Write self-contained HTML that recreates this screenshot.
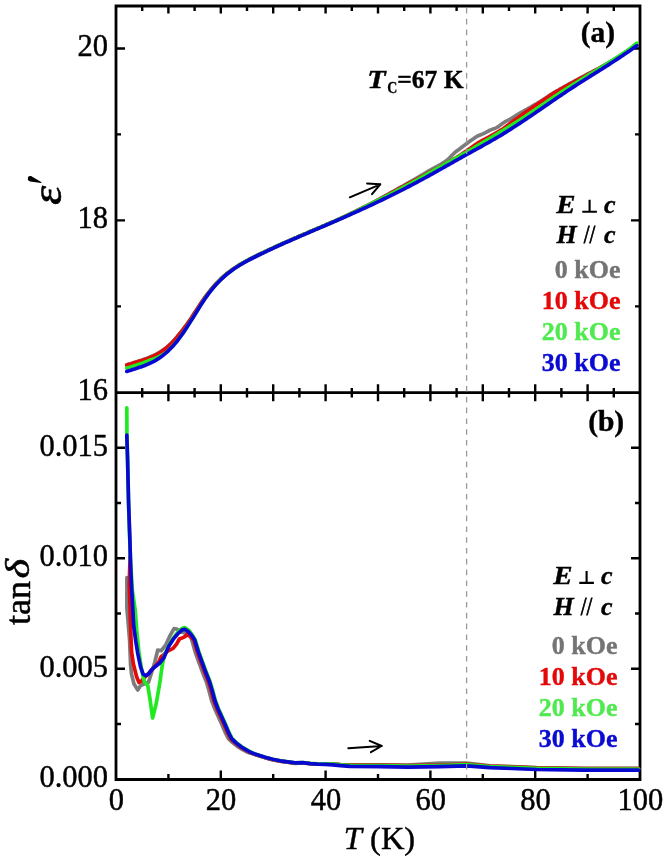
<!DOCTYPE html>
<html><head><meta charset="utf-8"><style>
html,body{margin:0;padding:0;background:#fff;width:664px;height:857px;overflow:hidden}
svg{display:block;filter:blur(0.35px)}
</style></head><body>
<svg width="664" height="857" viewBox="0 0 664 857">
<rect width="664" height="857" fill="#fff"/>
<path d="M116 6 H640 V779.5 H116 Z M116 392.7 H640" fill="none" stroke="#000" stroke-width="2.8" stroke-linejoin="miter"/>
<path d="M116 306.4 h5 M640 306.4 h-5 M116 134.4 h5 M640 134.4 h-5 M116 220.4 h9 M640 220.4 h-9 M116 48.5 h9 M640 48.5 h-9 M142.2 6 v5 M168.4 6 v7.5 M194.6 6 v5 M220.8 6 v7.5 M247.0 6 v5 M273.2 6 v7.5 M299.4 6 v5 M325.6 6 v7.5 M351.8 6 v5 M378.0 6 v7.5 M404.2 6 v5 M430.4 6 v7.5 M456.6 6 v5 M482.8 6 v7.5 M509.0 6 v5 M535.2 6 v7.5 M561.4 6 v5 M587.6 6 v7.5 M613.8 6 v5 M142.2 388 v9.4 M168.4 384.2 v17 M194.6 388 v9.4 M220.8 384.2 v17 M247.0 388 v9.4 M273.2 384.2 v17 M299.4 388 v9.4 M325.6 384.2 v17 M351.8 388 v9.4 M378.0 384.2 v17 M404.2 388 v9.4 M430.4 384.2 v17 M456.6 388 v9.4 M482.8 384.2 v17 M509.0 388 v9.4 M535.2 384.2 v17 M561.4 388 v9.4 M587.6 384.2 v17 M613.8 388 v9.4 M168.4 779.5 v-5.5 M220.8 779.5 v-9 M273.2 779.5 v-5.5 M325.6 779.5 v-9 M378.0 779.5 v-5.5 M430.4 779.5 v-9 M482.8 779.5 v-5.5 M535.2 779.5 v-9 M587.6 779.5 v-5.5 M116 724.0 h5 M640 724.0 h-5 M116 613.5 h5 M640 613.5 h-5 M116 503.0 h5 M640 503.0 h-5 M116 668.8 h9 M640 668.8 h-9 M116 558.3 h9 M640 558.3 h-9 M116 447.8 h9 M640 447.8 h-9" fill="none" stroke="#000" stroke-width="2.4"/>
<path d="M126.8 364.7 L128.8 364.0 L130.8 363.5 L132.8 362.9 L134.8 362.3 L136.8 361.7 L138.8 361.1 L140.8 360.4 L142.8 359.8 L144.8 359.0 L146.8 358.3 L148.8 357.5 L150.8 356.6 L152.8 355.8 L154.8 354.8 L156.8 353.8 L158.8 352.7 L160.8 351.5 L162.8 350.1 L164.8 348.7 L166.8 347.1 L168.8 345.4 L170.8 343.6 L172.8 341.6 L174.8 339.4 L176.8 337.2 L178.8 334.8 L180.8 332.3 L182.8 329.9 L184.8 327.3 L186.8 324.6 L188.8 321.9 L190.8 319.0 L192.8 315.9 L194.8 312.8 L196.8 309.7 L198.8 306.6 L200.8 303.6 L202.8 300.6 L204.8 297.7 L206.8 295.0 L208.8 292.4 L210.8 289.9 L212.8 287.5 L214.8 285.2 L216.8 283.0 L218.8 281.0 L220.8 279.0 L222.8 277.2 L224.8 275.4 L226.8 273.8 L228.8 272.2 L230.8 270.7 L232.8 269.3 L234.8 268.0 L236.8 266.7 L238.8 265.4 L240.8 264.2 L242.8 263.0 L244.8 261.9 L246.8 260.8 L248.8 259.7 L250.8 258.7 L252.8 257.7 L254.8 256.7 L256.8 255.7 L258.8 254.7 L260.8 253.7 L262.8 252.8 L264.8 251.8 L266.8 250.9 L268.8 249.9 L270.8 249.0 L272.8 248.1 L274.8 247.1 L276.8 246.2 L278.8 245.3 L280.8 244.4 L282.8 243.5 L284.8 242.6 L286.8 241.7 L288.8 240.9 L290.8 240.0 L292.8 239.1 L294.8 238.2 L296.8 237.4 L298.8 236.5 L300.8 235.6 L302.8 234.8 L304.8 233.9 L306.8 233.1 L308.8 232.2 L310.8 231.3 L312.8 230.5 L314.8 229.6 L316.8 228.8 L318.8 227.9 L320.8 227.1 L322.8 226.2 L324.8 225.4 L326.8 224.5 L328.8 223.7 L330.8 222.8 L332.8 221.9 L334.8 221.1 L336.8 220.2 L338.8 219.3 L340.8 218.4 L342.8 217.5 L344.8 216.5 L346.8 215.5 L348.8 214.6 L350.8 213.6 L352.8 212.6 L354.8 211.6 L356.8 210.7 L358.8 209.7 L360.8 208.7 L362.8 207.7 L364.8 206.7 L366.8 205.7 L368.8 204.7 L370.8 203.6 L372.8 202.6 L374.8 201.5 L376.8 200.4 L378.8 199.3 L380.8 198.2 L382.8 197.1 L384.8 196.0 L386.8 194.9 L388.8 193.8 L390.8 192.7 L392.8 191.6 L394.8 190.5 L396.8 189.3 L398.8 188.2 L400.8 187.1 L402.8 186.0 L404.8 184.8 L406.8 183.7 L408.8 182.6 L410.8 181.4 L412.8 180.3 L414.8 179.2 L416.8 178.0 L418.8 176.8 L420.8 175.7 L422.8 174.5 L424.8 173.3 L426.8 172.1 L428.8 170.9 L430.8 169.8 L432.8 168.7 L434.8 167.6 L436.8 166.5 L438.8 165.4 L440.8 164.3 L442.8 163.1 L444.8 161.7 L446.8 160.4 L448.8 158.7 L450.8 156.6 L452.8 154.5 L454.8 152.6 L456.8 151.1 L458.8 149.6 L460.8 148.0 L462.8 146.5 L464.8 145.0 L466.8 143.5 L468.8 142.1 L470.8 140.6 L472.8 139.2 L474.8 137.8 L476.8 136.4 L478.8 135.5 L480.8 134.7 L482.8 133.9 L484.8 133.0 L486.8 131.9 L488.8 130.8 L490.8 129.9 L492.8 129.1 L494.8 128.4 L496.8 127.6 L498.8 126.2 L500.8 124.8 L502.8 123.3 L504.8 121.9 L506.8 120.9 L508.8 119.9 L510.8 118.8 L512.8 117.6 L514.8 116.4 L516.8 115.1 L518.8 113.9 L520.8 112.7 L522.8 111.5 L524.8 110.4 L526.8 109.3 L528.8 108.1 L530.8 107.0 L532.8 105.8 L534.8 104.6 L536.8 103.5 L538.8 102.3 L540.8 101.1 L542.8 99.8 L544.8 98.5 L546.8 97.2 L548.8 95.9 L550.8 94.6 L552.8 93.3 L554.8 92.0 L556.8 90.9 L558.8 89.8 L560.8 88.6 L562.8 87.5 L564.8 86.4 L566.8 85.3 L568.8 84.2 L570.8 83.1 L572.8 82.0 L574.8 80.9 L576.8 79.8 L578.8 78.8 L580.8 77.7 L582.8 76.6 L584.8 75.6 L586.8 74.5 L588.8 73.5 L590.8 72.5 L592.8 71.4 L594.8 70.4 L596.8 69.3 L598.8 68.3 L600.8 67.2 L602.8 66.1 L604.8 65.0 L606.8 63.8 L608.8 62.7 L610.8 61.5 L612.8 60.4 L614.8 59.2 L616.8 58.0 L618.8 56.8 L620.8 55.6 L622.8 54.3 L624.8 53.0 L626.8 51.6 L628.8 50.3 L630.8 48.9 L632.8 47.5 L634.8 46.1 L636.8 44.7" fill="none" stroke="#7c7c7c" stroke-width="3.7" stroke-linejoin="round" stroke-linecap="round"/>
<path d="M126.8 365.3 L128.8 364.6 L130.8 364.0 L132.8 363.3 L134.8 362.6 L136.8 362.0 L138.8 361.3 L140.8 360.8 L142.8 360.2 L144.8 359.5 L146.8 358.9 L148.8 358.1 L150.8 357.3 L152.8 356.4 L154.8 355.5 L156.8 354.4 L158.8 353.3 L160.8 352.1 L162.8 350.7 L164.8 349.2 L166.8 347.6 L168.8 345.9 L170.8 344.0 L172.8 342.0 L174.8 339.8 L176.8 337.5 L178.8 335.0 L180.8 332.5 L182.8 329.9 L184.8 327.2 L186.8 324.5 L188.8 321.6 L190.8 318.7 L192.8 315.6 L194.8 312.5 L196.8 309.5 L198.8 306.4 L200.8 303.4 L202.8 300.5 L204.8 297.7 L206.8 294.9 L208.8 292.4 L210.8 289.9 L212.8 287.5 L214.8 285.2 L216.8 283.0 L218.8 281.0 L220.8 279.0 L222.8 277.2 L224.8 275.4 L226.8 273.8 L228.8 272.2 L230.8 270.7 L232.8 269.3 L234.8 268.0 L236.8 266.7 L238.8 265.4 L240.8 264.2 L242.8 263.0 L244.8 261.9 L246.8 260.8 L248.8 259.7 L250.8 258.7 L252.8 257.7 L254.8 256.7 L256.8 255.7 L258.8 254.7 L260.8 253.7 L262.8 252.8 L264.8 251.8 L266.8 250.9 L268.8 249.9 L270.8 249.0 L272.8 248.1 L274.8 247.1 L276.8 246.2 L278.8 245.3 L280.8 244.4 L282.8 243.5 L284.8 242.6 L286.8 241.7 L288.8 240.9 L290.8 240.0 L292.8 239.1 L294.8 238.2 L296.8 237.4 L298.8 236.5 L300.8 235.6 L302.8 234.8 L304.8 233.9 L306.8 233.1 L308.8 232.2 L310.8 231.3 L312.8 230.5 L314.8 229.6 L316.8 228.8 L318.8 227.9 L320.8 227.1 L322.8 226.2 L324.8 225.4 L326.8 224.5 L328.8 223.7 L330.8 222.8 L332.8 221.9 L334.8 221.1 L336.8 220.2 L338.8 219.3 L340.8 218.4 L342.8 217.5 L344.8 216.6 L346.8 215.6 L348.8 214.7 L350.8 213.7 L352.8 212.8 L354.8 211.8 L356.8 210.8 L358.8 209.9 L360.8 208.9 L362.8 207.9 L364.8 206.9 L366.8 206.0 L368.8 205.0 L370.8 204.0 L372.8 202.9 L374.8 201.8 L376.8 200.8 L378.8 199.7 L380.8 198.6 L382.8 197.5 L384.8 196.4 L386.8 195.4 L388.8 194.3 L390.8 193.2 L392.8 192.0 L394.8 190.9 L396.8 189.8 L398.8 188.7 L400.8 187.6 L402.8 186.6 L404.8 185.6 L406.8 184.5 L408.8 183.5 L410.8 182.5 L412.8 181.4 L414.8 180.3 L416.8 179.3 L418.8 178.2 L420.8 177.1 L422.8 176.1 L424.8 175.0 L426.8 173.9 L428.8 172.8 L430.8 171.7 L432.8 170.6 L434.8 169.6 L436.8 168.5 L438.8 167.4 L440.8 166.4 L442.8 165.3 L444.8 164.2 L446.8 163.1 L448.8 162.1 L450.8 161.0 L452.8 159.9 L454.8 158.7 L456.8 157.4 L458.8 156.1 L460.8 154.8 L462.8 153.4 L464.8 152.1 L466.8 150.8 L468.8 149.3 L470.8 147.9 L472.8 146.5 L474.8 145.1 L476.8 143.7 L478.8 142.4 L480.8 141.3 L482.8 140.2 L484.8 139.2 L486.8 138.1 L488.8 137.0 L490.8 135.9 L492.8 134.8 L494.8 133.7 L496.8 132.5 L498.8 131.4 L500.8 130.2 L502.8 129.0 L504.8 127.5 L506.8 126.0 L508.8 124.5 L510.8 123.0 L512.8 121.6 L514.8 120.1 L516.8 118.7 L518.8 117.2 L520.8 115.8 L522.8 114.3 L524.8 112.8 L526.8 111.3 L528.8 110.0 L530.8 108.6 L532.8 107.3 L534.8 105.9 L536.8 104.6 L538.8 103.3 L540.8 101.9 L542.8 100.6 L544.8 99.2 L546.8 97.8 L548.8 96.5 L550.8 95.1 L552.8 93.8 L554.8 92.5 L556.8 91.4 L558.8 90.3 L560.8 89.1 L562.8 88.0 L564.8 86.9 L566.8 85.8 L568.8 84.7 L570.8 83.6 L572.8 82.5 L574.8 81.4 L576.8 80.3 L578.8 79.2 L580.8 78.1 L582.8 77.1 L584.8 76.0 L586.8 74.9 L588.8 73.9 L590.8 72.8 L592.8 71.8 L594.8 70.7 L596.8 69.7 L598.8 68.6 L600.8 67.5 L602.8 66.3 L604.8 65.2 L606.8 64.0 L608.8 62.8 L610.8 61.7 L612.8 60.5 L614.8 59.3 L616.8 58.1 L618.8 56.9 L620.8 55.6 L622.8 54.3 L624.8 53.0 L626.8 51.6 L628.8 50.3 L630.8 48.9 L632.8 47.5 L634.8 46.1 L636.8 44.7" fill="none" stroke="#e40808" stroke-width="3.7" stroke-linejoin="round" stroke-linecap="round"/>
<path d="M126.8 368.1 L128.8 367.5 L130.8 366.9 L132.8 366.2 L134.8 365.6 L136.8 365.0 L138.8 364.3 L140.8 363.7 L142.8 363.0 L144.8 362.2 L146.8 361.4 L148.8 360.6 L150.8 359.8 L152.8 359.2 L154.8 358.4 L156.8 357.6 L158.8 356.7 L160.8 355.7 L162.8 354.6 L164.8 353.4 L166.8 351.9 L168.8 350.0 L170.8 348.0 L172.8 345.9 L174.8 343.6 L176.8 341.2 L178.8 338.6 L180.8 335.9 L182.8 333.1 L184.8 330.1 L186.8 327.1 L188.8 324.0 L190.8 320.8 L192.8 317.6 L194.8 314.4 L196.8 311.2 L198.8 308.0 L200.8 304.8 L202.8 301.7 L204.8 298.7 L206.8 295.9 L208.8 293.1 L210.8 290.5 L212.8 288.1 L214.8 285.7 L216.8 283.5 L218.8 281.4 L220.8 279.4 L222.8 277.5 L224.8 275.7 L226.8 274.0 L228.8 272.4 L230.8 270.9 L232.8 269.4 L234.8 268.0 L236.8 266.7 L238.8 265.4 L240.8 264.2 L242.8 263.0 L244.8 261.9 L246.8 260.8 L248.8 259.7 L250.8 258.7 L252.8 257.7 L254.8 256.7 L256.8 255.7 L258.8 254.7 L260.8 253.7 L262.8 252.8 L264.8 251.8 L266.8 250.9 L268.8 249.9 L270.8 249.0 L272.8 248.1 L274.8 247.1 L276.8 246.2 L278.8 245.3 L280.8 244.4 L282.8 243.5 L284.8 242.6 L286.8 241.7 L288.8 240.9 L290.8 240.0 L292.8 239.1 L294.8 238.2 L296.8 237.4 L298.8 236.5 L300.8 235.6 L302.8 234.8 L304.8 233.9 L306.8 233.1 L308.8 232.2 L310.8 231.3 L312.8 230.5 L314.8 229.6 L316.8 228.8 L318.8 227.9 L320.8 227.1 L322.8 226.2 L324.8 225.4 L326.8 224.5 L328.8 223.7 L330.8 222.8 L332.8 221.9 L334.8 221.1 L336.8 220.2 L338.8 219.3 L340.8 218.4 L342.8 217.5 L344.8 216.6 L346.8 215.6 L348.8 214.7 L350.8 213.7 L352.8 212.8 L354.8 211.8 L356.8 210.9 L358.8 209.9 L360.8 208.9 L362.8 208.0 L364.8 207.0 L366.8 206.0 L368.8 205.0 L370.8 204.0 L372.8 203.0 L374.8 202.0 L376.8 201.0 L378.8 200.0 L380.8 199.0 L382.8 198.0 L384.8 197.0 L386.8 195.9 L388.8 194.9 L390.8 193.9 L392.8 192.8 L394.8 191.8 L396.8 190.7 L398.8 189.6 L400.8 188.6 L402.8 187.5 L404.8 186.5 L406.8 185.4 L408.8 184.3 L410.8 183.3 L412.8 182.2 L414.8 181.1 L416.8 180.0 L418.8 178.9 L420.8 177.8 L422.8 176.7 L424.8 175.6 L426.8 174.4 L428.8 173.3 L430.8 172.2 L432.8 171.1 L434.8 169.9 L436.8 168.8 L438.8 167.7 L440.8 166.6 L442.8 165.5 L444.8 164.3 L446.8 163.2 L448.8 162.1 L450.8 161.0 L452.8 159.8 L454.8 158.7 L456.8 157.6 L458.8 156.5 L460.8 155.3 L462.8 154.2 L464.8 153.1 L466.8 152.0 L468.8 150.8 L470.8 149.6 L472.8 148.5 L474.8 147.3 L476.8 146.1 L478.8 144.9 L480.8 143.8 L482.8 142.6 L484.8 141.4 L486.8 140.2 L488.8 139.0 L490.8 137.8 L492.8 136.6 L494.8 135.4 L496.8 134.2 L498.8 132.9 L500.8 131.7 L502.8 130.5 L504.8 129.3 L506.8 128.1 L508.8 126.9 L510.8 125.6 L512.8 124.4 L514.8 123.1 L516.8 121.9 L518.8 120.6 L520.8 119.3 L522.8 118.0 L524.8 116.7 L526.8 115.4 L528.8 114.0 L530.8 112.7 L532.8 111.3 L534.8 110.0 L536.8 108.6 L538.8 107.3 L540.8 105.9 L542.8 104.5 L544.8 103.2 L546.8 101.8 L548.8 100.4 L550.8 99.1 L552.8 97.7 L554.8 96.4 L556.8 95.1 L558.8 93.7 L560.8 92.4 L562.8 91.1 L564.8 89.8 L566.8 88.6 L568.8 87.3 L570.8 86.0 L572.8 84.7 L574.8 83.5 L576.8 82.3 L578.8 81.0 L580.8 79.8 L582.8 78.6 L584.8 77.3 L586.8 76.1 L588.8 74.9 L590.8 73.7 L592.8 72.5 L594.8 71.3 L596.8 70.1 L598.8 68.9 L600.8 67.7 L602.8 66.4 L604.8 65.2 L606.8 63.9 L608.8 62.7 L610.8 61.4 L612.8 60.1 L614.8 58.8 L616.8 57.6 L618.8 56.3 L620.8 54.9 L622.8 53.6 L624.8 52.3 L626.8 50.9 L628.8 49.4 L630.8 47.9 L632.8 46.4 L634.8 44.8 L636.8 43.2" fill="none" stroke="#22ea22" stroke-width="3.7" stroke-linejoin="round" stroke-linecap="round"/>
<path d="M126.8 371.4 L128.8 370.8 L130.8 370.2 L132.8 369.5 L134.8 368.9 L136.8 368.3 L138.8 367.6 L140.8 366.9 L142.8 366.2 L144.8 365.5 L146.8 364.6 L148.8 363.8 L150.8 362.9 L152.8 361.9 L154.8 360.8 L156.8 359.6 L158.8 358.4 L160.8 357.0 L162.8 355.5 L164.8 353.9 L166.8 352.2 L168.8 350.3 L170.8 348.3 L172.8 346.2 L174.8 343.9 L176.8 341.5 L178.8 338.9 L180.8 336.2 L182.8 333.4 L184.8 330.4 L186.8 327.4 L188.8 324.3 L190.8 321.1 L192.8 317.9 L194.8 314.7 L196.8 311.5 L198.8 308.3 L200.8 305.1 L202.8 302.0 L204.8 299.0 L206.8 296.2 L208.8 293.4 L210.8 290.8 L212.8 288.4 L214.8 286.0 L216.8 283.8 L218.8 281.7 L220.8 279.7 L222.8 277.8 L224.8 276.0 L226.8 274.3 L228.8 272.7 L230.8 271.2 L232.8 269.7 L234.8 268.3 L236.8 267.0 L238.8 265.7 L240.8 264.5 L242.8 263.3 L244.8 262.2 L246.8 261.1 L248.8 260.0 L250.8 259.0 L252.8 258.0 L254.8 257.0 L256.8 256.0 L258.8 255.0 L260.8 254.0 L262.8 253.1 L264.8 252.1 L266.8 251.2 L268.8 250.2 L270.8 249.3 L272.8 248.4 L274.8 247.4 L276.8 246.5 L278.8 245.6 L280.8 244.7 L282.8 243.8 L284.8 242.9 L286.8 242.0 L288.8 241.2 L290.8 240.3 L292.8 239.4 L294.8 238.5 L296.8 237.7 L298.8 236.8 L300.8 235.9 L302.8 235.1 L304.8 234.2 L306.8 233.4 L308.8 232.5 L310.8 231.6 L312.8 230.8 L314.8 229.9 L316.8 229.1 L318.8 228.2 L320.8 227.4 L322.8 226.5 L324.8 225.7 L326.8 224.8 L328.8 224.0 L330.8 223.1 L332.8 222.2 L334.8 221.4 L336.8 220.5 L338.8 219.6 L340.8 218.8 L342.8 217.9 L344.8 217.0 L346.8 216.1 L348.8 215.2 L350.8 214.3 L352.8 213.4 L354.8 212.5 L356.8 211.6 L358.8 210.7 L360.8 209.8 L362.8 208.9 L364.8 208.0 L366.8 207.1 L368.8 206.1 L370.8 205.2 L372.8 204.3 L374.8 203.3 L376.8 202.4 L378.8 201.4 L380.8 200.5 L382.8 199.5 L384.8 198.5 L386.8 197.6 L388.8 196.6 L390.8 195.6 L392.8 194.6 L394.8 193.6 L396.8 192.6 L398.8 191.6 L400.8 190.6 L402.8 189.6 L404.8 188.6 L406.8 187.5 L408.8 186.5 L410.8 185.5 L412.8 184.4 L414.8 183.3 L416.8 182.3 L418.8 181.2 L420.8 180.1 L422.8 179.1 L424.8 178.0 L426.8 176.9 L428.8 175.8 L430.8 174.7 L432.8 173.6 L434.8 172.4 L436.8 171.3 L438.8 170.2 L440.8 169.1 L442.8 168.0 L444.8 166.8 L446.8 165.7 L448.8 164.6 L450.8 163.5 L452.8 162.3 L454.8 161.2 L456.8 160.1 L458.8 159.0 L460.8 157.8 L462.8 156.7 L464.8 155.6 L466.8 154.5 L468.8 153.4 L470.8 152.3 L472.8 151.2 L474.8 150.1 L476.8 149.0 L478.8 147.9 L480.8 146.8 L482.8 145.6 L484.8 144.5 L486.8 143.4 L488.8 142.3 L490.8 141.1 L492.8 140.0 L494.8 138.8 L496.8 137.6 L498.8 136.5 L500.8 135.3 L502.8 134.1 L504.8 132.8 L506.8 131.6 L508.8 130.3 L510.8 129.1 L512.8 127.8 L514.8 126.5 L516.8 125.2 L518.8 123.9 L520.8 122.6 L522.8 121.3 L524.8 119.9 L526.8 118.6 L528.8 117.2 L530.8 115.9 L532.8 114.5 L534.8 113.2 L536.8 111.8 L538.8 110.4 L540.8 109.1 L542.8 107.7 L544.8 106.3 L546.8 104.9 L548.8 103.6 L550.8 102.2 L552.8 100.8 L554.8 99.4 L556.8 98.1 L558.8 96.7 L560.8 95.4 L562.8 94.0 L564.8 92.7 L566.8 91.3 L568.8 90.0 L570.8 88.7 L572.8 87.4 L574.8 86.1 L576.8 84.8 L578.8 83.5 L580.8 82.2 L582.8 81.0 L584.8 79.7 L586.8 78.5 L588.8 77.2 L590.8 75.9 L592.8 74.7 L594.8 73.4 L596.8 72.2 L598.8 70.9 L600.8 69.7 L602.8 68.4 L604.8 67.1 L606.8 65.9 L608.8 64.6 L610.8 63.3 L612.8 62.0 L614.8 60.7 L616.8 59.4 L618.8 58.1 L620.8 56.8 L622.8 55.5 L624.8 54.1 L626.8 52.7 L628.8 51.4 L630.8 50.0 L632.8 48.6 L634.8 47.1 L636.8 45.7" fill="none" stroke="#0808d0" stroke-width="3.7" stroke-linejoin="round" stroke-linecap="round"/>
<path d="M126.9 577.5 L126.9 608.0 L128.2 623.0 L129.6 640.0 L130.2 655.0 L130.6 665.0 L131.5 674.0 L134.0 684.0 L137.8 690.0 L140.5 685.6 L144.0 684.0 L148.4 682.5 L151.5 673.0 L154.7 662.5 L157.7 650.2 L161.3 650.7 L165.8 644.8 L169.5 636.7 L174.0 628.6 L176.7 629.0 L181.2 631.7 L184.8 633.1 L189.8 631.7 L191.1 637.6 L195.2 652.1 L198.9 662.4 L202.7 672.6 L206.4 682.0 L208.8 690.0 L211.6 700.5 L214.8 708.9 L218.6 717.3 L222.1 725.0 L225.6 733.2 L228.4 738.6 L232.6 742.6 L238.2 747.0 L241.8 749.2 L246.8 752.0 L255.0 754.5 L265.1 757.7 L272.6 759.7 L280.1 761.2 L287.7 762.2 L295.2 763.3 L302.7 762.8 L310.2 763.5 L317.8 763.8 L325.3 763.8 L332.8 764.0 L340.4 764.5 L350.0 764.8 L380.0 764.9 L407.8 765.1 L440.0 763.0 L466.5 763.0 L490.0 765.8 L536.7 767.7 L583.4 768.4 L638.5 768.4" fill="none" stroke="#7c7c7c" stroke-width="3.7" stroke-linejoin="round" stroke-linecap="round"/>
<path d="M130.2 556.0 L129.6 572.0 L129.3 584.0 L129.8 600.0 L130.4 620.0 L131.0 638.0 L131.6 652.0 L133.4 664.0 L136.7 677.1 L139.0 682.4 L141.3 681.3 L144.5 677.5 L148.4 673.6 L152.0 669.5 L156.0 665.5 L159.0 661.5 L161.0 657.0 L163.5 654.8 L167.6 651.1 L173.1 648.4 L176.7 643.9 L179.4 639.0 L183.0 637.6 L185.7 636.2 L187.1 634.0 L189.5 636.0 L193.7 640.0 L197.4 652.1 L201.1 662.4 L204.9 672.6 L208.6 682.0 L211.0 690.0 L213.8 700.5 L217.0 708.9 L220.8 717.3 L224.3 725.0 L227.8 733.2 L230.6 738.6 L234.8 742.6 L240.4 747.0 L244.0 749.2 L249.0 752.0 L255.0 754.4 L265.1 757.6 L272.6 759.6 L280.1 761.1 L287.7 762.1 L295.2 763.2 L302.7 762.8 L310.2 763.6 L317.8 763.8 L325.3 763.9 L332.8 764.1 L340.4 764.6 L350.0 765.0 L380.0 765.1 L407.8 765.5 L440.0 765.0 L466.5 764.2 L490.0 766.0 L536.7 767.9 L583.4 768.6 L638.5 768.6" fill="none" stroke="#e40808" stroke-width="3.7" stroke-linejoin="round" stroke-linecap="round"/>
<path d="M126.8 407.8 L126.9 433.0 L127.8 470.0 L129.0 520.0 L130.5 560.0 L132.3 590.0 L135.2 610.0 L136.8 631.0 L138.9 652.0 L141.5 668.8 L144.2 681.4 L147.8 685.6 L150.2 700.4 L152.6 718.0 L156.3 703.3 L159.8 682.9 L162.2 665.6 L164.0 656.5 L168.6 645.6 L173.1 638.4 L177.6 632.5 L182.1 628.5 L184.8 627.6 L188.4 630.0 L192.0 634.5 L195.3 640.0 L199.0 652.1 L202.7 662.4 L206.5 672.6 L210.2 682.0 L212.6 690.0 L215.4 700.5 L218.6 708.9 L222.4 717.3 L225.9 725.0 L229.4 733.2 L232.2 738.6 L236.4 742.6 L242.0 747.0 L245.6 749.2 L250.6 752.0 L255.0 754.1 L265.1 757.3 L272.6 759.3 L280.1 760.8 L287.7 761.8 L295.2 762.9 L302.7 762.6 L310.2 763.4 L317.8 763.8 L325.3 763.9 L332.8 764.2 L340.4 764.9 L350.0 765.4 L380.0 765.6 L407.8 766.0 L440.0 765.5 L466.5 764.7 L490.0 766.5 L536.7 768.4 L583.4 769.1 L638.5 769.1" fill="none" stroke="#22ea22" stroke-width="3.7" stroke-linejoin="round" stroke-linecap="round"/>
<path d="M126.8 435.0 L127.6 460.0 L128.5 500.0 L129.9 540.0 L130.4 558.7 L131.3 582.0 L132.3 600.6 L133.7 625.8 L135.8 641.5 L137.9 654.1 L140.5 666.7 L143.1 674.1 L145.7 675.7 L148.4 674.1 L151.5 669.9 L155.7 666.2 L159.5 663.3 L164.0 657.5 L168.6 646.6 L173.1 639.4 L177.6 634.0 L182.1 629.9 L184.8 629.3 L188.4 631.7 L192.0 635.8 L194.7 640.0 L198.4 652.1 L202.1 662.4 L205.9 672.6 L209.6 682.0 L212.0 690.0 L214.8 700.5 L218.0 708.9 L221.8 717.3 L225.3 725.0 L228.8 733.2 L231.6 738.6 L235.8 742.6 L241.4 747.0 L245.0 749.2 L250.0 752.0 L255.0 754.1 L265.1 757.3 L272.6 759.3 L280.1 760.8 L287.7 761.8 L295.2 762.9 L302.7 762.6 L310.2 763.6 L317.8 764.1 L325.3 764.4 L332.8 764.8 L340.4 765.6 L350.0 766.3 L380.0 766.7 L407.8 767.1 L440.0 766.6 L466.5 765.8 L490.0 767.6 L536.7 769.5 L583.4 770.2 L638.5 770.2" fill="none" stroke="#0808d0" stroke-width="3.7" stroke-linejoin="round" stroke-linecap="round"/>
<path d="M349.8 197.3 L380.3 184.3 M367.1 183.6 L380.3 184.3 L372 194.2" fill="none" stroke="#000" stroke-width="2" stroke-linecap="round" stroke-linejoin="round"/>
<path d="M348.3 748.2 L381.8 746 M369.7 740.9 L381.8 746 L370.9 752.2" fill="none" stroke="#000" stroke-width="2" stroke-linecap="round" stroke-linejoin="round"/>
<line x1="466.6" y1="8" x2="466.6" y2="778" stroke="#999" stroke-width="1.3" stroke-dasharray="5.6 5.2"/>
<text id="ya20" x="108" y="56.4" font-family="Liberation Serif" font-size="30.5" stroke="#000" stroke-width="0.45" text-anchor="end">20</text>
<text id="ya18" x="108" y="228.3" font-family="Liberation Serif" font-size="30.5" stroke="#000" stroke-width="0.45" text-anchor="end">18</text>
<text id="ya16" x="108" y="400.2" font-family="Liberation Serif" font-size="30.5" stroke="#000" stroke-width="0.45" text-anchor="end">16</text>
<text id="yb000" x="108" y="787.3" font-family="Liberation Serif" font-size="30.5" stroke="#000" stroke-width="0.45" text-anchor="end">0.000</text>
<text id="yb005" x="108" y="676.8" font-family="Liberation Serif" font-size="30.5" stroke="#000" stroke-width="0.45" text-anchor="end">0.005</text>
<text id="yb010" x="108" y="566.3" font-family="Liberation Serif" font-size="30.5" stroke="#000" stroke-width="0.45" text-anchor="end">0.010</text>
<text id="yb015" x="108" y="455.8" font-family="Liberation Serif" font-size="30.5" stroke="#000" stroke-width="0.45" text-anchor="end">0.015</text>
<text id="x0" x="116.3" y="809.5" font-family="Liberation Serif" font-size="30.5" stroke="#000" stroke-width="0.45" text-anchor="middle">0</text>
<text id="x20" x="221.1" y="809.5" font-family="Liberation Serif" font-size="30.5" stroke="#000" stroke-width="0.45" text-anchor="middle">20</text>
<text id="x40" x="325.9" y="809.5" font-family="Liberation Serif" font-size="30.5" stroke="#000" stroke-width="0.45" text-anchor="middle">40</text>
<text id="x60" x="430.7" y="809.5" font-family="Liberation Serif" font-size="30.5" stroke="#000" stroke-width="0.45" text-anchor="middle">60</text>
<text id="x80" x="535.5" y="809.5" font-family="Liberation Serif" font-size="30.5" stroke="#000" stroke-width="0.45" text-anchor="middle">80</text>
<text id="x100" x="640.3" y="809.5" font-family="Liberation Serif" font-size="30.5" stroke="#000" stroke-width="0.45" text-anchor="middle">100</text>
<text id="xt" x="415.2" y="848.5" stroke="#000" stroke-width="0.45" font-family="Liberation Serif" font-size="32.5" text-anchor="end"><tspan font-style="italic">T</tspan> (K)</text>
<text id="ybt" transform="translate(30,625) rotate(-90)" stroke="#000" stroke-width="0.45" font-family="Liberation Serif" font-size="36">tan</text>
<text id="ybd" transform="translate(29,578.5) rotate(-90) scale(1.17,0.92)" stroke="#000" stroke-width="0.6" font-family="Liberation Serif" font-size="36" font-style="italic">δ</text>
<text id="yat" transform="translate(61,205) rotate(-90) scale(1.16,1)" stroke="#000" stroke-width="0.6" font-family="Liberation Serif" font-size="42" font-style="italic">ε</text>
<path id="yap" d="M28.2 176.8 Q29.5 175.6 31 176.1 L41.6 182.2 L41.2 183 L30.2 181.6 Q28.2 181 27.9 179.2 Q27.8 177.7 28.2 176.8 Z" fill="#000"/>
<text id="pa" x="615.1" y="41.7" font-family="Liberation Serif" font-size="29.5" font-weight="bold" stroke="#000" stroke-width="0.4" text-anchor="end">(a)</text>
<text id="pb" x="624.2" y="431" font-family="Liberation Serif" font-size="29.5" font-weight="bold" stroke="#000" stroke-width="0.4" text-anchor="end">(b)</text>
<text id="tcT" transform="translate(367.2,88) scale(1.18,1)" font-family="Liberation Serif" font-size="25.5" font-weight="bold" font-style="italic" stroke="#000" stroke-width="0.4">T</text>
<text id="tcC" transform="translate(387.3,92.5) scale(0.82,1)" font-family="Liberation Serif" font-size="17" font-weight="bold" stroke="#000" stroke-width="0.3">C</text>
<text id="tcR" x="463.5" y="88" font-family="Liberation Serif" font-size="25.5" font-weight="bold" stroke="#000" stroke-width="0.4" text-anchor="end">=67 K</text>
<text id="laE" transform="translate(556.3,212.6) scale(1.11,1)" font-family="Liberation Serif" font-size="26" font-weight="bold" stroke-width="0.4" stroke="#000" font-style="italic">E</text>
<path id="laperp" d="M589.6 199.8 V211.8 M582.3 211.7 H596.9" stroke="#000" stroke-width="2.1" fill="none"/>
<text id="lac1" x="615.6" y="212.6" font-family="Liberation Serif" font-size="26" font-weight="bold" stroke-width="0.4" stroke="#000" font-style="italic" text-anchor="end">c</text>
<text id="laH" x="556.6" y="243.1" font-family="Liberation Serif" font-size="26" font-weight="bold" stroke-width="0.4" stroke="#000" font-style="italic">H</text>
<text id="lasl" transform="translate(583.8,243.1) scale(0.8,1)" font-family="Liberation Serif" font-size="26" stroke="#000" stroke-width="0.8">//</text>
<text id="lac2" x="615.6" y="243.1" font-family="Liberation Serif" font-size="26" font-weight="bold" stroke-width="0.4" stroke="#000" font-style="italic" text-anchor="end">c</text>
<text id="lak0" x="620.6" y="277.7" font-family="Liberation Serif" font-size="26" font-weight="bold" stroke-width="0.4" text-anchor="end" fill="#747474" stroke="#747474">0 kOe</text>
<text id="lak1" x="620.6" y="308.7" font-family="Liberation Serif" font-size="26" font-weight="bold" stroke-width="0.4" text-anchor="end" fill="#e40808" stroke="#e40808">10 kOe</text>
<text id="lak2" x="620.6" y="340.0" font-family="Liberation Serif" font-size="26" font-weight="bold" stroke-width="0.4" text-anchor="end" fill="#50ea50" stroke="#50ea50">20 kOe</text>
<text id="lak3" x="620.6" y="371.1" font-family="Liberation Serif" font-size="26" font-weight="bold" stroke-width="0.4" text-anchor="end" fill="#0a0ad2" stroke="#0a0ad2">30 kOe</text>
<text id="lbE" transform="translate(553.3,583.8) scale(1.11,1)" font-family="Liberation Serif" font-size="26" font-weight="bold" stroke-width="0.4" stroke="#000" font-style="italic">E</text>
<path id="lbperp" d="M586.6 571.0 V583.0 M579.3 582.9 H593.9" stroke="#000" stroke-width="2.1" fill="none"/>
<text id="lbc1" x="612.6" y="583.8" font-family="Liberation Serif" font-size="26" font-weight="bold" stroke-width="0.4" stroke="#000" font-style="italic" text-anchor="end">c</text>
<text id="lbH" x="553.6" y="614.9" font-family="Liberation Serif" font-size="26" font-weight="bold" stroke-width="0.4" stroke="#000" font-style="italic">H</text>
<text id="lbsl" transform="translate(580.8,614.9) scale(0.8,1)" font-family="Liberation Serif" font-size="26" stroke="#000" stroke-width="0.8">//</text>
<text id="lbc2" x="612.6" y="614.9" font-family="Liberation Serif" font-size="26" font-weight="bold" stroke-width="0.4" stroke="#000" font-style="italic" text-anchor="end">c</text>
<text id="lbk0" x="617.6" y="654.1" font-family="Liberation Serif" font-size="26" font-weight="bold" stroke-width="0.4" text-anchor="end" fill="#747474" stroke="#747474">0 kOe</text>
<text id="lbk1" x="617.6" y="684.9" font-family="Liberation Serif" font-size="26" font-weight="bold" stroke-width="0.4" text-anchor="end" fill="#e40808" stroke="#e40808">10 kOe</text>
<text id="lbk2" x="617.6" y="715.8" font-family="Liberation Serif" font-size="26" font-weight="bold" stroke-width="0.4" text-anchor="end" fill="#50ea50" stroke="#50ea50">20 kOe</text>
<text id="lbk3" x="617.6" y="746.9" font-family="Liberation Serif" font-size="26" font-weight="bold" stroke-width="0.4" text-anchor="end" fill="#0a0ad2" stroke="#0a0ad2">30 kOe</text>
</svg></body></html>
